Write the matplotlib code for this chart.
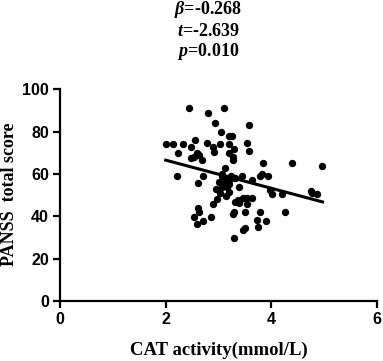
import matplotlib
matplotlib.use("Agg")
import matplotlib.pyplot as plt

cat_activity = [2.45, 2.80, 3.11, 2.94, 3.57, 3.04, 3.19, 3.25, 2.00, 2.13,
                2.32, 2.23, 2.55, 2.48, 2.78, 2.89, 2.92, 3.03, 3.19, 3.30,
                3.19, 3.28, 3.54, 3.58, 2.59, 2.53, 2.64, 2.68, 2.48, 3.28,
                3.84, 4.39, 4.97, 2.21, 2.70, 2.61, 3.13, 3.07, 3.06, 3.16,
                3.24, 3.31, 3.44, 3.63, 3.79, 3.82, 3.94, 3.39, 3.19, 3.16,
                3.06, 2.95, 3.02, 3.19, 3.15, 2.97, 3.98, 4.02, 4.20, 4.75,
                4.86, 4.78, 3.46, 3.54, 3.63, 3.31, 3.39, 3.54, 2.89, 2.61,
                2.64, 2.53, 2.59, 2.70, 2.86, 3.30, 3.27, 3.50, 3.78, 4.26,
                3.73, 3.90, 3.74, 3.50, 3.46, 3.30, 3.10, 3.22, 3.12, 3.00,
                3.36]
panss_total = [90.9, 88.8, 90.9, 83.8, 83.0, 79.9, 77.8, 77.8, 73.9, 73.9,
               73.9, 70.0, 75.9, 72.8, 74.8, 72.8, 70.4, 73.9, 73.9, 71.8,
               70.0, 68.1, 74.8, 70.9, 70.0, 68.1, 69.0, 66.5, 67.6, 66.5,
               65.0, 65.0, 63.8, 58.8, 58.8, 55.8, 62.6, 60.2, 58.8, 58.0,
               58.8, 58.0, 58.8, 57.1, 58.8, 60.2, 58.8, 53.6, 55.4, 53.9,
               53.9, 52.8, 51.0, 51.4, 49.7, 48.4, 52.4, 50.5, 50.5, 52.0,
               50.5, 51.2, 48.7, 48.7, 48.7, 46.8, 46.5, 45.7, 45.7, 44.0,
               42.1, 39.8, 36.6, 37.7, 39.8, 42.1, 41.3, 41.8, 41.8, 41.8,
               38.2, 37.7, 35.1, 34.6, 33.5, 30.0, 56.5, 57.5, 55.0, 56.0,
               47.5]
fit_x = [2.0, 4.97]
fit_y = [66.5, 46.8]
x_ticks = [0, 2, 4, 6]
y_ticks = [0, 20, 40, 60, 80, 100]
stats_lines = [r"$\beta$=-0.268", r"$t$=-2.639", r"$p$=0.010"]

plt.rcParams['mathtext.fontset'] = 'custom'
plt.rcParams['mathtext.it'] = 'Liberation Serif:italic:bold'
plt.rcParams['mathtext.rm'] = 'Liberation Serif:bold'

fig = plt.figure(figsize=(3.83, 3.61), dpi=100)
ax = fig.add_axes([0.157, 0.166, 0.827, 0.587])

ax.scatter(cat_activity, panss_total, s=28, color='black', zorder=3, linewidths=0)
ax.plot(fit_x, fit_y, color='black', lw=2.2, zorder=2)

ax.set_xlim(0, 6)
ax.set_ylim(0, 100)
ax.set_xticks(x_ticks)
ax.set_yticks(y_ticks)
for s in ['top', 'right']:
    ax.spines[s].set_visible(False)
for s in ['left', 'bottom']:
    ax.spines[s].set_linewidth(1.6)
ax.tick_params(width=1.6, length=5, direction='out', pad=3)
for lbl in ax.get_xticklabels() + ax.get_yticklabels():
    lbl.set_fontfamily('Liberation Sans')
    lbl.set_fontweight('bold')
    lbl.set_fontsize(11.5)

ax.set_xlabel("CAT activity(mmol/L)", fontfamily='Liberation Serif',
              fontweight='bold', fontsize=13.5, va='center')
ax.xaxis.set_label_coords(0.5, -0.231)
ax.set_ylabel("PANSS  total score", fontfamily='Liberation Serif',
              fontweight='bold', fontsize=13, va='center')
ax.yaxis.set_label_coords(-0.161, 0.505)

for i, t in enumerate(stats_lines):
    fig.text(0.544, 1 - (10 + 21 * i) / 361, t, ha='center', va='center',
             fontfamily='Liberation Serif', fontweight='bold', fontsize=13)

fig.savefig("out.png", dpi=100)
